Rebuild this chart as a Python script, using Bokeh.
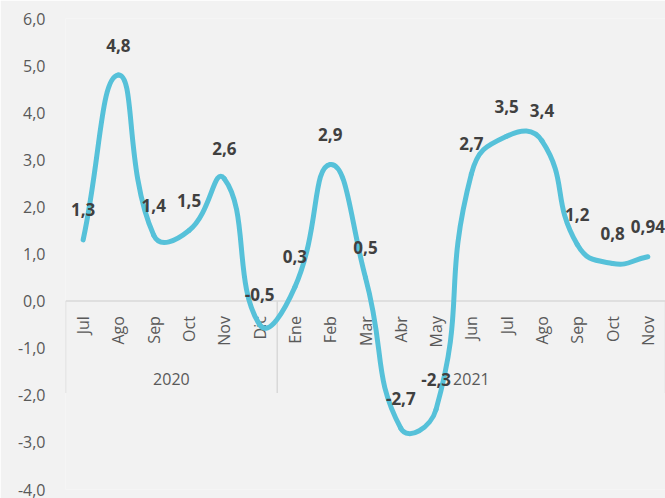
import numpy as np
from bokeh.plotting import figure
from bokeh.models import Range1d, CustomJSTickFormatter, FixedTicker, ColumnDataSource
from bokeh.core.properties import value
from bokeh.embed import file_html
from bokeh.resources import INLINE

# ---- data ----
months = ["Jul", "Ago", "Sep", "Oct", "Nov", "Dic",
          "Ene", "Feb", "Mar", "Abr", "May", "Jun", "Jul", "Ago", "Sep", "Oct", "Nov"]
years = ["2020", "2021"]
year_counts = [6, 11]
values = [1.3, 4.8, 1.4, 1.5, 2.6, -0.5,
          0.3, 2.9, 0.5, -2.7, -2.3, 2.7, 3.5, 3.4, 1.2, 0.8, 0.94]
y_ticks = [-4, -3, -2, -1, 0, 1, 2, 3, 4, 5, 6]

FONT = "Open Sans"
LINE_COLOR = "#56C1D9"
BG = "#F2F2F2"

W, H = 665, 498
BL, BR, BT, BB = 65, 0, 18, 9
YMIN, YMAX = -4, 6

n = len(values)
xs = np.arange(n, dtype=float)
ys = np.array(values, dtype=float)

p = figure(width=W, height=H, output_backend="svg", toolbar_location=None,
           x_range=Range1d(-0.5, n - 0.5), y_range=Range1d(YMIN, YMAX),
           min_border_left=BL, min_border_right=BR, min_border_top=BT, min_border_bottom=BB)
p.background_fill_color = BG
p.border_fill_color = BG
p.outline_line_color = None
p.grid.visible = False
p.xaxis.visible = False

yax = p.yaxis[0]
yax.ticker = FixedTicker(ticks=y_ticks)
yax.formatter = CustomJSTickFormatter(code="return tick.toFixed(1).replace('.', ',');")
yax.axis_line_color = None
yax.major_tick_line_color = None
yax.minor_tick_line_color = None
yax.major_tick_out = 0
yax.major_tick_in = 0
yax.major_label_standoff = 20
yax.major_label_text_font = FONT
yax.major_label_text_font_size = "16px"
yax.major_label_text_color = "#595959"

# ---- category axis at y=0 ----
AX_COLOR = "#D9D9D9"
depth = -1.95
p.segment(x0=[-0.5], y0=[0], x1=[n - 0.5], y1=[0], line_color=AX_COLOR, line_width=1.5)
bounds = np.concatenate([[0], np.cumsum(year_counts)]) - 0.5
p.segment(x0=bounds, y0=np.zeros(len(bounds)), x1=bounds, y1=np.full(len(bounds), depth),
          line_color=AX_COLOR, line_width=1.5)

p.text(x=xs, y=np.zeros(n), text=months, angle=np.pi / 2,
       text_align="right", text_baseline="middle", y_offset=15,
       text_font=value(FONT), text_font_size="16px", text_color="#595959")

centers = (bounds[:-1] + bounds[1:]) / 2
p.text(x=centers, y=np.zeros(len(centers)), text=years, y_offset=78,
       text_align="center", text_baseline="middle",
       text_font=value(FONT), text_font_size="16px", text_color="#595959")

# ---- smoothed line via bezier segments (length-weighted tangents, screen space) ----
sx_scale = (W - BL - BR) / n
sy_scale = (H - BT - BB) / (YMAX - YMIN)
px = xs * sx_scale
py = ys * sy_scale
tension = 0.5
cout_x = np.zeros(n); cout_y = np.zeros(n)
cin_x = np.zeros(n); cin_y = np.zeros(n)
for i in range(n):
    a = max(i - 1, 0)
    b = min(i + 1, n - 1)
    tx, ty = px[b] - px[a], py[b] - py[a]
    lp = np.hypot(px[i] - px[a], py[i] - py[a])
    ln = np.hypot(px[b] - px[i], py[b] - py[i])
    s = lp + ln if lp + ln > 0 else 1.0
    cout_x[i] = px[i] + tx * tension * ln / s
    cout_y[i] = py[i] + ty * tension * ln / s
    cin_x[i] = px[i] - tx * tension * lp / s
    cin_y[i] = py[i] - ty * tension * lp / s

idx = np.arange(n - 1)
src = ColumnDataSource(dict(
    x0=xs[idx], y0=ys[idx], x1=xs[idx + 1], y1=ys[idx + 1],
    cx0=cout_x[idx] / sx_scale, cy0=cout_y[idx] / sy_scale,
    cx1=cin_x[idx + 1] / sx_scale, cy1=cin_y[idx + 1] / sy_scale))
p.bezier(x0="x0", y0="y0", x1="x1", y1="y1", cx0="cx0", cy0="cy0", cx1="cx1", cy1="cy1",
         source=src, line_color=LINE_COLOR, line_width=5, line_cap="round")

# ---- data labels ----
labels = [str(v).replace(".", ",") for v in values]
p.text(x=xs, y=ys, text=labels, y_offset=-30, text_align="center", text_baseline="middle",
       text_font=value(FONT), text_font_size="17px", text_font_style="bold",
       text_color="#404040")

open("out.html", "w").write(file_html(p, INLINE))
